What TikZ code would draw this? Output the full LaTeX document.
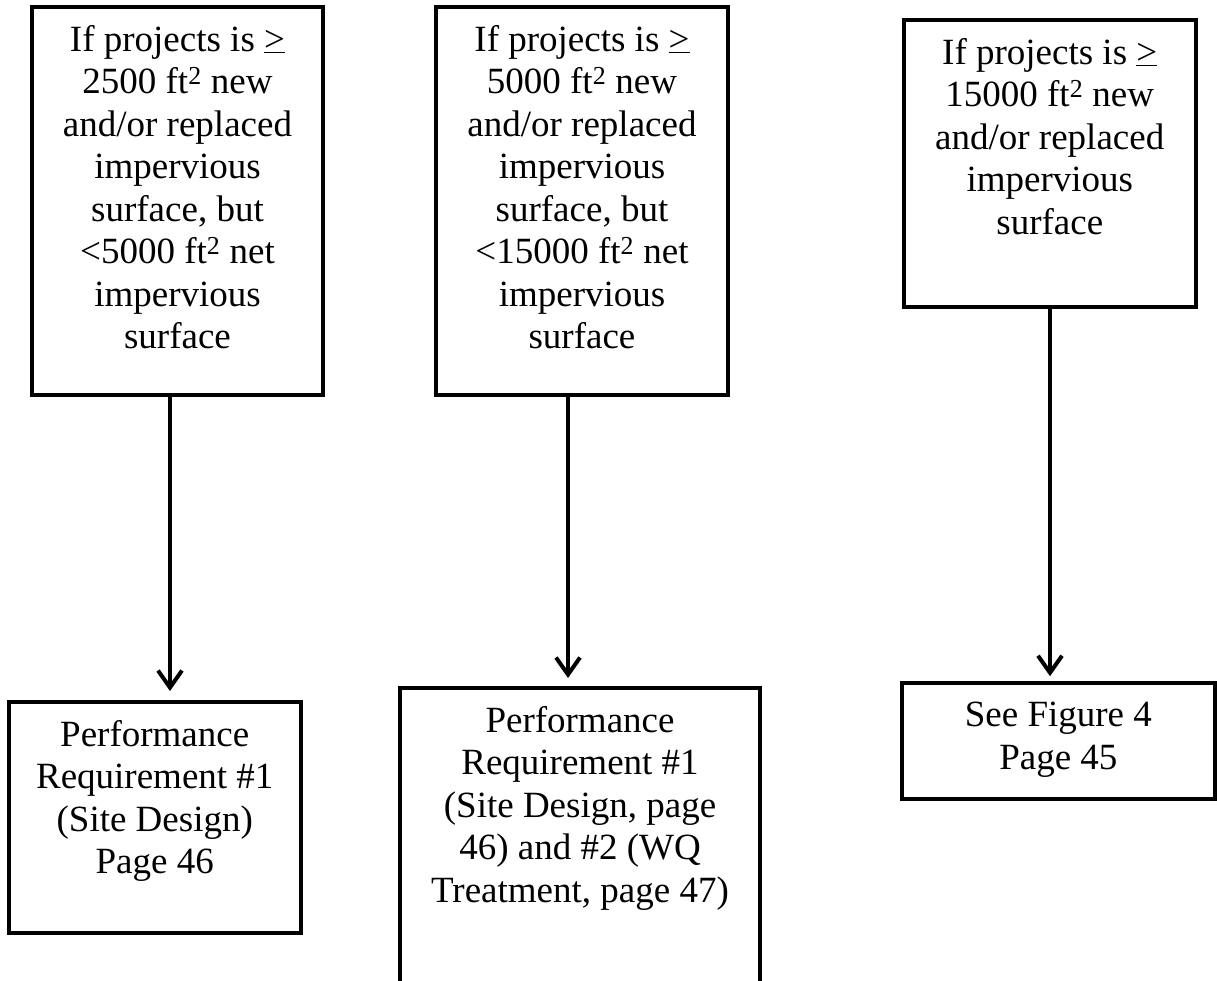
\documentclass[tikz,border=0pt]{standalone}
\usepackage{fontspec}
\setmainfont{Liberation Serif}
\usetikzlibrary{arrows.meta}
\tikzset{
  box/.style={draw=black, line width=4pt, inner sep=0pt, rectangle},
  txt/.style={anchor=north, align=center, inner sep=0pt,
    font=\fontsize{37}{42.5}\selectfont},
  arr/.style={line width=4pt, -{Straight Barb[length=17pt, width=24pt, line width=4pt]}}
}
\begin{document}
\begin{tikzpicture}[x=1pt, y=-1pt]
\useasboundingbox (0,0) rectangle (1217,980);
\clip (0,0) rectangle (1217,980);
% top boxes
\node[box, minimum width=291pt, minimum height=388pt] (b1) at (177.5,201) {};
\node[box, minimum width=292pt, minimum height=388pt] (b2) at (582,201) {};
\node[box, minimum width=292.5pt, minimum height=286.5pt] (b3) at (1049.75,163.25) {};
% bottom boxes
\node[box, minimum width=292.5pt, minimum height=231pt] (b4) at (154.75,817.5) {};
\node[box, minimum width=360pt, minimum height=296pt] (b5) at (580,836) {};
\node[box, minimum width=312.7pt, minimum height=116pt] (b6) at (1058.35,740.7) {};
% texts
\node[txt] (t1) at ([yshift=-16.25pt]b1.north) {\strut If projects is \underline{>}\\2500 ft\textsuperscript{2} new\\and/or replaced\\impervious\\surface, but\\<5000 ft\textsuperscript{2} net\\impervious\\surface};
\node[txt] (t2) at ([yshift=-16.25pt]b2.north) {\strut If projects is \underline{>}\\5000 ft\textsuperscript{2} new\\and/or replaced\\impervious\\surface, but\\<15000 ft\textsuperscript{2} net\\impervious\\surface};
\node[txt] (t3) at ([yshift=-16.25pt]b3.north) {\strut If projects is \underline{>}\\15000 ft\textsuperscript{2} new\\and/or replaced\\impervious\\surface};
\node[txt] (t4) at ([yshift=-16.25pt]b4.north) {\strut Performance\\Requirement \#1\\(Site Design)\\Page 46};
\node[txt] (t5) at ([yshift=-16.25pt]b5.north) {\strut Performance\\Requirement \#1\\(Site Design, page\\46) and \#2 (WQ\\Treatment, page 47)};
\node[txt] (t6) at ([yshift=-16.25pt]b6.north) {\strut See Figure 4\\Page 45};
% arrows
\draw[arr, shorten >=9pt] ([xshift=-7.5pt]b1.south) -- ([xshift=15.25pt]b4.north);
\draw[arr, shorten >=8pt] ([xshift=-14pt]b2.south) -- ([xshift=-12pt]b5.north);
\draw[arr, shorten >=4.5pt] ([xshift=0.25pt]b3.south) -- ([xshift=-8.35pt]b6.north);
\end{tikzpicture}
\end{document}
